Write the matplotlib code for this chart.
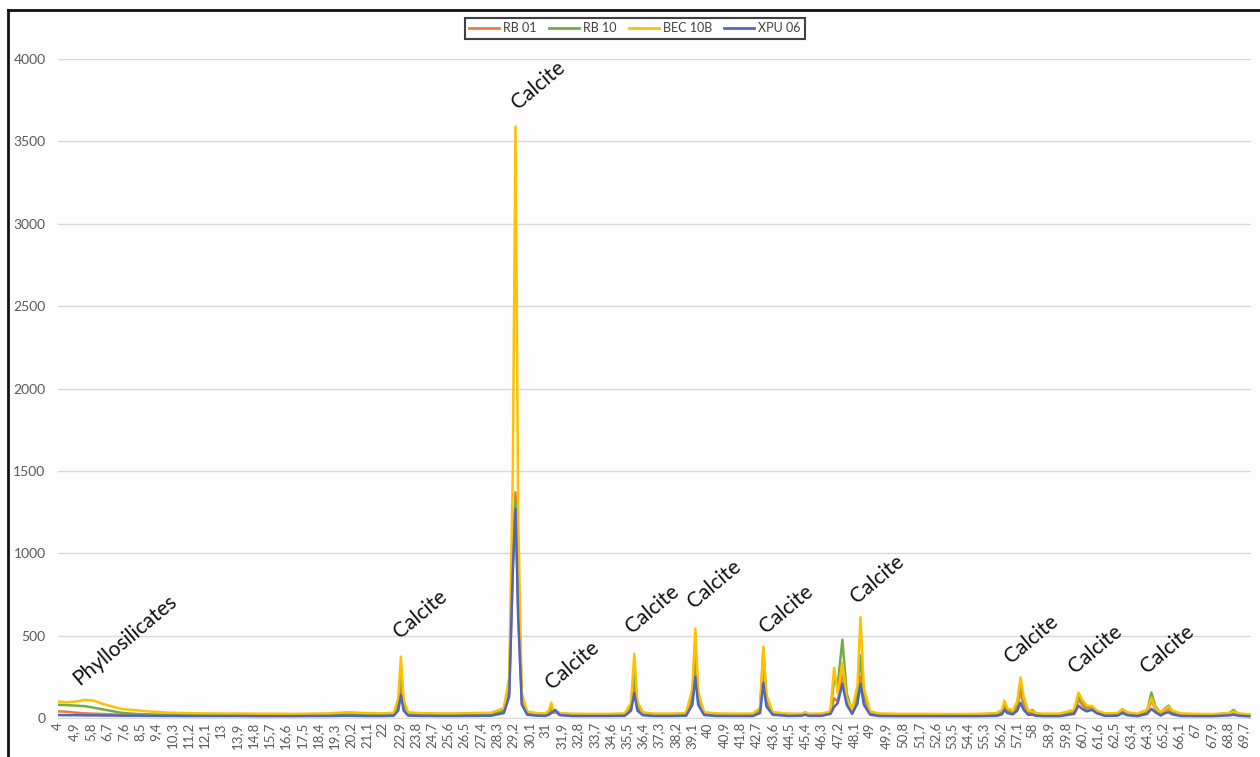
import matplotlib.pyplot as plt
from matplotlib.lines import Line2D

plt.rcParams['font.family'] = ['Lato', 'DejaVu Sans']

# 2theta positions (grouped by region)
two_theta = [
    4.0, 4.5, 5.0, 5.5, 6.0, 6.5, 7.0, 7.5, 8.0, 8.5, 9.0,
    10.0, 11.0, 12.0, 13.0, 14.0, 15.0, 16.0, 17.0, 18.0, 19.0, 20.0, 20.5, 21.0, 22.0,
    22.6, 22.85, 23.0, 23.15, 23.4, 24.0, 25.0, 26.0, 27.0, 28.0,
    28.7, 29.0, 29.2, 29.35, 29.5, 29.7, 30.0, 30.5,
    31.0, 31.2, 31.33, 31.45, 31.55, 31.8, 32.5, 33.5, 34.5,
    35.4, 35.75, 35.93, 36.1, 36.4, 37.0, 38.0, 38.8,
    39.15, 39.31, 39.47, 39.8, 40.5, 41.5, 42.5,
    42.9, 43.08, 43.25, 43.6, 44.5, 45.2, 45.4, 45.6, 46.3, 46.8,
    47.0, 47.2, 47.46, 47.7, 48.0, 48.3, 48.46, 48.65, 49.0, 49.5,
    50.5, 52.0, 53.5, 55.0, 56.0,
    56.3, 56.44, 56.6, 56.9, 57.15, 57.33, 57.5, 57.75, 58.0, 58.2, 58.6, 59.5,
    60.3, 60.54, 60.75, 61.0, 61.3, 61.55, 62.0, 62.7, 62.98, 63.25, 63.8,
    64.35, 64.58, 64.8, 65.1, 65.35, 65.53, 65.75, 66.2, 67.0, 68.0, 68.9, 69.13, 69.4, 70.0,
]

rb01 = [
    40, 38, 32, 28, 26, 24, 22, 20, 18, 17, 16,
    15, 15, 14, 14, 14, 14, 14, 14, 14, 15, 18, 17, 16, 15,
    17, 60, 180, 55, 18, 16, 15, 15, 16, 17,
    35, 150, 900, 1370, 650, 90, 24, 17,
    16, 28, 55, 30, 35, 19, 15, 15, 15,
    16, 60, 213, 60, 22, 16, 16, 18,
    110, 330, 100, 22, 16, 15, 16,
    45, 330, 100, 25, 16, 17, 26, 17, 17, 30,
    120, 100, 260, 100, 30, 120, 250, 100, 25, 16,
    15, 15, 14, 15, 17,
    30, 70, 40, 30, 70, 160, 80, 30, 30, 18, 15, 15,
    35, 110, 80, 50, 50, 30, 17, 20, 40, 22, 15,
    35, 110, 50, 22, 45, 55, 30, 17, 15, 15, 22, 35, 18, 14,
]

rb10 = [
    80, 78, 75, 72, 62, 52, 42, 32, 27, 24, 22,
    20, 19, 18, 18, 17, 17, 17, 17, 18, 19, 24, 22, 20, 19,
    22, 90, 300, 85, 25, 21, 20, 20, 21, 22,
    45, 200, 1000, 1320, 800, 110, 30, 22,
    20, 35, 70, 35, 40, 24, 19, 19, 19,
    20, 70, 300, 80, 27, 20, 20, 22,
    150, 450, 130, 27, 20, 19, 20,
    55, 420, 120, 30, 20, 22, 34, 22, 22, 35,
    230, 200, 476, 150, 40, 150, 380, 140, 30, 21,
    19, 19, 18, 19, 22,
    40, 85, 50, 38, 90, 220, 110, 40, 48, 25, 20, 20,
    45, 130, 100, 65, 65, 40, 22, 25, 50, 30, 20,
    45, 154, 70, 30, 60, 75, 40, 22, 20, 19, 30, 49, 25, 18,
]

bec10b = [
    100, 95, 100, 110, 105, 85, 70, 55, 50, 45, 40,
    33, 30, 28, 27, 27, 26, 26, 25, 26, 28, 35, 33, 30, 28,
    32, 120, 372, 110, 35, 30, 28, 28, 30, 32,
    60, 250, 1500, 3590, 1200, 150, 40, 30,
    28, 45, 93, 40, 45, 30, 26, 25, 25,
    28, 90, 390, 100, 35, 27, 27, 30,
    180, 543, 160, 35, 28, 26, 27,
    60, 433, 140, 35, 27, 26, 32, 26, 27, 40,
    305, 150, 335, 120, 50, 200, 612, 180, 40, 28,
    25, 25, 24, 25, 30,
    50, 106, 60, 45, 100, 246, 130, 45, 40, 30, 26, 27,
    50, 154, 110, 75, 73, 45, 28, 30, 55, 35, 26,
    50, 122, 60, 35, 55, 68, 45, 28, 25, 24, 30, 40, 28, 22,
]

xpu06 = [
    18, 17, 17, 16, 16, 15, 15, 14, 14, 14, 13,
    13, 12, 12, 12, 12, 11, 11, 11, 12, 12, 14, 13, 12, 12,
    14, 45, 140, 45, 15, 13, 12, 12, 13, 14,
    30, 130, 900, 1270, 600, 80, 20, 14,
    13, 20, 30, 40, 49, 18, 12, 12, 12,
    13, 45, 152, 45, 17, 12, 12, 14,
    80, 250, 80, 18, 12, 12, 12,
    30, 213, 70, 20, 12, 14, 20, 13, 13, 25,
    67, 90, 207, 80, 25, 90, 207, 80, 20, 12,
    11, 11, 11, 11, 13,
    22, 49, 30, 22, 45, 93, 50, 20, 20, 13, 11, 11,
    25, 75, 55, 40, 50, 30, 13, 14, 30, 17, 11,
    25, 55, 35, 15, 30, 35, 22, 12, 11, 11, 16, 20, 14, 10,
]

series_names = ['RB 01', 'RB 10', 'BEC 10B', 'XPU 06']
series_values = [rb01, rb10, bec10b, xpu06]
colors = ['#ED7D31', '#70AD47', '#FFC000', '#4F66C0']

# x tick labels every 0.9 degree
tick_labels = ['4', '4,9', '5,8', '6,7', '7,6', '8,5', '9,4', '10,3', '11,2', '12,1',
               '13', '13,9', '14,8', '15,7', '16,6', '17,5', '18,4', '19,3', '20,2', '21,1',
               '22', '22,9', '23,8', '24,7', '25,6', '26,5', '27,4', '28,3', '29,2', '30,1',
               '31', '31,9', '32,8', '33,7', '34,6', '35,5', '36,4', '37,3', '38,2', '39,1',
               '40', '40,9', '41,8', '42,7', '43,6', '44,5', '45,4', '46,3', '47,2', '48,1',
               '49', '49,9', '50,8', '51,7', '52,6', '53,5', '54,4', '55,3', '56,2', '57,1',
               '58', '58,9', '59,8', '60,7', '61,6', '62,5', '63,4', '64,3', '65,2', '66,1',
               '67', '67,9', '68,8', '69,7']
tick_pos = [float(t.replace(',', '.')) for t in tick_labels]

# annotations: (text, 2theta, intensity)
notes = [
    ('Phyllosilicates', 7.7, 476),
    ('Calcite', 30.6, 3843),
    ('Calcite', 24.07, 628),
    ('Calcite', 32.5, 323),
    ('Calcite', 36.93, 659),
    ('Calcite', 40.36, 811),
    ('Calcite', 44.36, 659),
    ('Calcite', 49.4, 842),
    ('Calcite', 57.94, 476),
    ('Calcite', 61.48, 415),
    ('Calcite', 65.47, 415),
]

fig = plt.figure(figsize=(12.6, 7.57), dpi=100)
fig.patch.set_facecolor('#FEFDFD')
ax = fig.add_axes([58 / 1260, 39 / 757, (1251 - 58) / 1260, (718 - 59) / 757])
ax.set_facecolor('#FEFDFD')

for name, vals, c in zip(series_names, series_values, colors):
    ax.plot(two_theta, vals, color=c, linewidth=1.8, label=name)

ax.set_xlim(4, 70.1)
ax.set_ylim(0, 4000)
ax.set_yticks(range(0, 4001, 500))
ax.yaxis.grid(True, color='#D9D9D9', linewidth=1)
ax.set_axisbelow(True)
ax.set_xticks(tick_pos)
ax.set_xticklabels(tick_labels, rotation=90, fontsize=9.5, color='#595959')
ax.tick_params(axis='y', labelsize=10, colors='#595959', length=0, pad=9)
ax.tick_params(axis='x', length=0, pad=3)
for s in ['top', 'right', 'left']:
    ax.spines[s].set_visible(False)
ax.spines['bottom'].set_color('#D9D9D9')

for txt, xv, yv in notes:
    ax.text(xv, yv, txt, rotation=40, rotation_mode='anchor', ha='center', va='center',
            fontsize=15, color='#111111')

handles = [Line2D([], [], color=c, linewidth=2) for c in colors]
leg = fig.legend(handles, series_names, loc='center', bbox_to_anchor=(635 / 1260, 1 - 28.5 / 757),
                 ncol=4, fontsize=9, frameon=True, fancybox=False, handlelength=2.4,
                 columnspacing=1.0, borderpad=0.35, handletextpad=0.3)
leg.get_frame().set_edgecolor('#111111')
leg.get_frame().set_linewidth(1.5)
for t in leg.get_texts():
    t.set_color('#404040')

# outer frame
fig.add_artist(Line2D([8 / 1260, 8 / 1260], [0, 1 - 10 / 757], color='#111111', linewidth=2,
                      transform=fig.transFigure))
fig.add_artist(Line2D([8 / 1260, 1], [1 - 10 / 757, 1 - 10 / 757], color='#111111', linewidth=2,
                      transform=fig.transFigure))

fig.savefig('out.png', dpi=100)
